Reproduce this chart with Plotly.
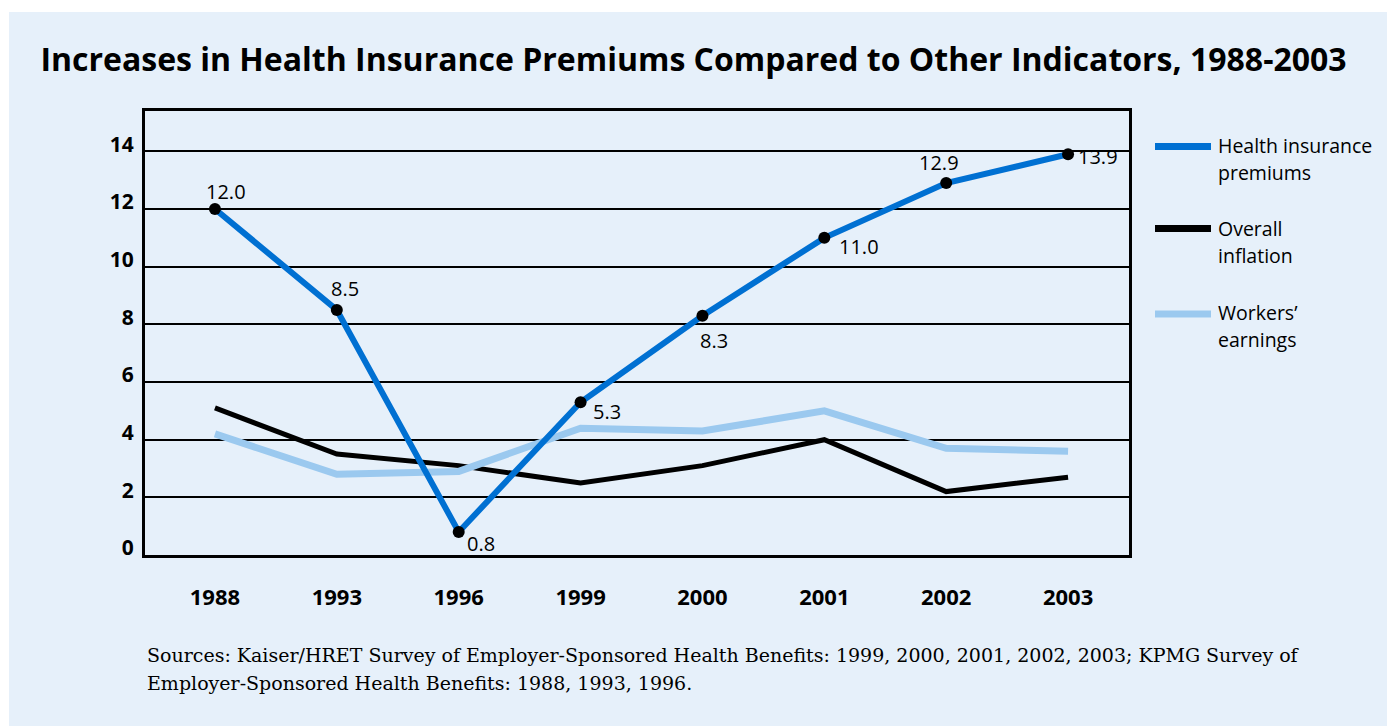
import plotly.graph_objects as go

years = ["1988", "1993", "1996", "1999", "2000", "2001", "2002", "2003"]
health_premiums = [12.0, 8.5, 0.8, 5.3, 8.3, 11.0, 12.9, 13.9]
overall_inflation = [5.1, 3.5, 3.1, 2.5, 3.1, 4.0, 2.2, 2.7]
workers_earnings = [4.2, 2.8, 2.9, 4.4, 4.3, 5.0, 3.7, 3.6]
y_ticks = [0, 2, 4, 6, 8, 10, 12, 14]
# pixel offsets of the value labels relative to their points
label_dx = [11, 8, 22, 26, 12, 35, -7, 30]
label_dy = [18, 21, -12, -9, -25, -9, 21, -2]

BG = "#E6F0FA"
BLUE = "#0070D2"
LIGHT = "#9BC9EF"
SANS = "Open Sans"

W, H = 1387, 726
L, R, T, B = 145, 1129, 111, 555

fig = go.Figure()
fig.add_trace(go.Scatter(x=years, y=overall_inflation, mode="lines",
                         line=dict(color="black", width=5), showlegend=False,
                         hoverinfo="skip"))
fig.add_trace(go.Scatter(x=years, y=workers_earnings, mode="lines",
                         line=dict(color=LIGHT, width=7), showlegend=False,
                         hoverinfo="skip"))
fig.add_trace(go.Scatter(x=years, y=health_premiums, mode="lines+markers",
                         line=dict(color=BLUE, width=6),
                         marker=dict(color="black", size=12),
                         showlegend=False, hoverinfo="skip"))

def px(x):
    return (x - L) / (R - L)

def py(y):
    return (B - y) / (B - T)

shapes = [dict(type="rect", xref="paper", yref="paper",
               x0=px(9), x1=px(W + 5), y0=py(12), y1=py(H + 5),
               fillcolor=BG, line=dict(width=0), layer="below")]
annotations = []

# category axis: annotation x uses the category index
for i, (v, dx, dy) in enumerate(zip(health_premiums, label_dx, label_dy)):
    annotations.append(dict(x=i, y=v, xref="x", yref="y", text=f"{v:.1f}",
                            showarrow=False, xshift=dx, yshift=dy,
                            xanchor="center", yanchor="middle",
                            font=dict(family=SANS, size=20, color="black")))

legend_items = [
    (BLUE, 146.5, ["Health insurance", "premiums"], [145, 172]),
    ("black", 228.5, ["Overall", "inflation"], [228, 255]),
    (LIGHT, 314, ["Workers\u2019", "earnings"], [312, 339]),
]
for color, ly, texts, tys in legend_items:
    shapes.append(dict(type="line", xref="paper", yref="paper",
                       x0=px(1155), x1=px(1211), y0=py(ly), y1=py(ly),
                       line=dict(color=color, width=7)))
    for t, ty in zip(texts, tys):
        annotations.append(dict(xref="paper", yref="paper", x=px(1216), y=py(ty),
                                xanchor="left", yanchor="middle", showarrow=False,
                                text=t, font=dict(family=SANS, size=19.5, color="black")))

source_lines = [
    "Sources: Kaiser/HRET Survey of Employer-Sponsored Health Benefits: 1999, 2000, 2001, 2002, 2003; KPMG Survey of",
    "Employer-Sponsored Health Benefits: 1988, 1993, 1996.",
]
for t, ty in zip(source_lines, [655, 683]):
    annotations.append(dict(xref="paper", yref="paper", x=px(145), y=py(ty),
                            xanchor="left", yanchor="middle", showarrow=False,
                            text=t, font=dict(family="DejaVu Serif", size=19, color="black")))

fig.update_layout(
    width=W, height=H,
    margin=dict(l=L, r=W - R, t=T, b=H - B, pad=0),
    paper_bgcolor="white", plot_bgcolor=BG,
    title=dict(text="<b>Increases in Health Insurance Premiums Compared to Other Indicators, 1988-2003</b>",
               x=0.5, xanchor="center", xref="container",
               y=1 - 60 / H, yanchor="middle", yref="container",
               font=dict(family=SANS, size=32, color="black")),
    xaxis=dict(type="category", range=[-0.574, 7.5], showgrid=False, zeroline=False,
               showline=True, linecolor="black", linewidth=3, mirror=True,
               ticks="", ticklabelstandoff=21,
               tickfont=dict(family=SANS, size=22, color="black", weight="bold")),
    yaxis=dict(range=[0, 15.4], tickvals=y_ticks, showgrid=True, gridcolor="black",
               gridwidth=2, zeroline=False, showline=True, linecolor="black",
               linewidth=3, mirror=True, ticks="", ticklabelstandoff=4,
               ticklabelshift=-7,
               tickfont=dict(family=SANS, size=21, color="black", weight="bold")),
    shapes=shapes, annotations=annotations,
)

fig.write_html("out.html")
